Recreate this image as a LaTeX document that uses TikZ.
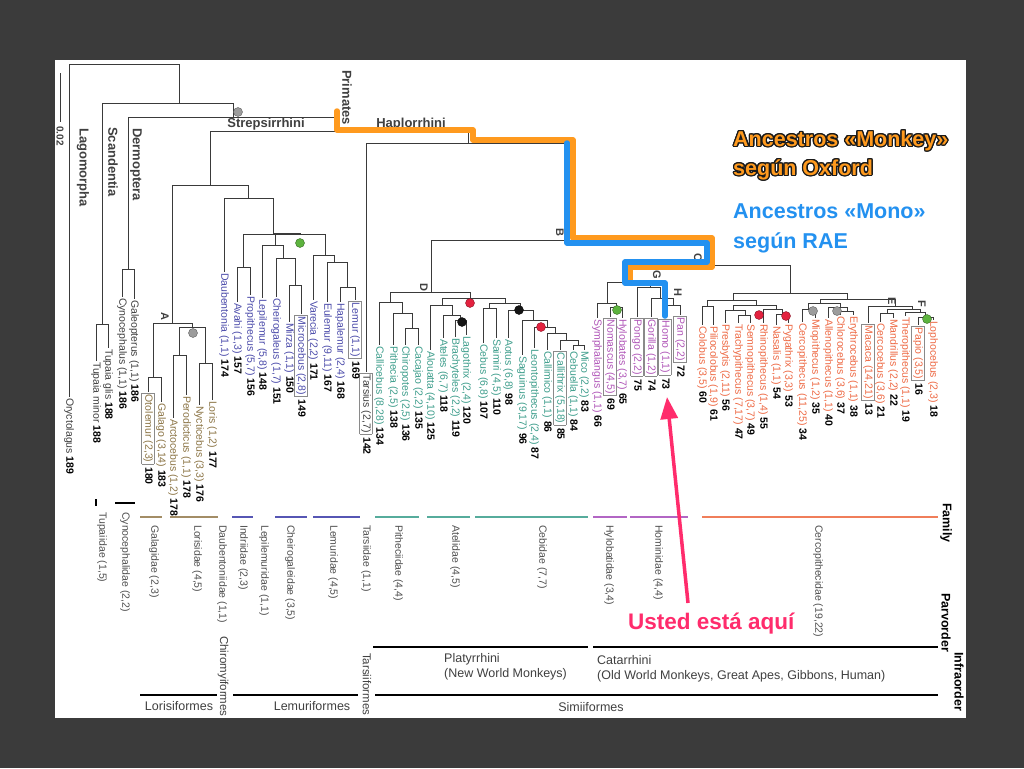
\documentclass[tikz,border=0pt]{standalone}
\usepackage{fontspec}
\setmainfont{Liberation Sans}
\usepackage{xcolor}
\usepackage{contour}
\usetikzlibrary{arrows.meta}
\definecolor{frame}{HTML}{3B3B3B}
\definecolor{treeline}{HTML}{3A3A3A}
\definecolor{outc}{HTML}{404040}
\definecolor{lorisc}{HTML}{8C7546}
\definecolor{lemurc}{HTML}{4B4BAA}
\definecolor{platyc}{HTML}{3E9E8C}
\definecolor{apec}{HTML}{B055B8}
\definecolor{cercoc}{HTML}{EE6A45}
\definecolor{boxgray}{HTML}{8A8A8A}
\definecolor{famtext}{HTML}{505050}
\definecolor{famloris}{HTML}{A38D66}
\definecolor{famlemur}{HTML}{5656B4}
\definecolor{famplaty}{HTML}{56AC9C}
\definecolor{famape}{HTML}{B266C4}
\definecolor{famcerco}{HTML}{F07E5A}
\definecolor{oxford}{HTML}{FF9A1E}
\definecolor{outl}{HTML}{1A1A1A}
\definecolor{rae}{HTML}{2391F0}
\definecolor{here}{HTML}{FF2C6C}
\definecolor{dotgrey}{HTML}{9C9C9C}
\definecolor{dotgreen}{HTML}{5DB33E}
\definecolor{dotred}{HTML}{E3223F}
\definecolor{dotblack}{HTML}{151515}
\newcommand\gnum[1]{\textbf{\textcolor{black}{#1}}}
\newcommand\namebox[1]{{\setlength\fboxsep{1.2pt}\setlength\fboxrule{0.6pt}\fcolorbox{boxgray}{white}{#1}}}
\contourlength{1.3pt}
\tikzset{
  br/.style={draw=treeline, line width=0.9pt},
  genus/.style={rotate=-90, anchor=west, inner sep=0.8pt, font=\fontsize{10.5}{12}\selectfont},
  fam/.style={rotate=-90, anchor=west, inner sep=0pt, text=famtext, font=\fontsize{10.5}{12}\selectfont},
  famline/.style={line width=2.2pt},
  clade/.style={rotate=-90, anchor=west, inner sep=0pt, text=outc, font=\bfseries\fontsize{13}{15}\selectfont},
  cladeh/.style={inner sep=0pt, text=outc, font=\bfseries\fontsize{13}{15}\selectfont},
  letter/.style={rotate=-90, inner sep=0pt, text=outc, font=\bfseries\fontsize{11}{12}\selectfont},
  bead/.style={circle, inner sep=0pt, minimum size=9pt, draw=#1!60!black, fill=#1, line width=0.4pt},
  rankbar/.style={draw=black, line width=1.6pt},
  ranklab/.style={inner sep=0pt, text=outc, font=\fontsize{12.5}{15}\selectfont},
  rankname/.style={rotate=-90, anchor=west, inner sep=0pt, font=\bfseries\fontsize{12.5}{14}\selectfont},
  oxfpath/.style={draw=oxford, line width=5.5pt, line join=round, line cap=round},
  raepath/.style={draw=rae, line width=5.5pt, line join=round, line cap=round},
  oxftext/.style={anchor=west, align=left, inner sep=0pt, text=oxford, font=\bfseries\fontsize{21.5}{29}\selectfont},
  raetext/.style={anchor=west, align=left, inner sep=0pt, text=rae, font=\bfseries\fontsize{21.5}{30}\selectfont},
  heretext/.style={anchor=west, inner sep=0pt, text=here, font=\bfseries\fontsize{22.5}{26}\selectfont},
  herearrow/.style={draw=here, line width=3.5pt, -{Triangle[length=22pt,width=17pt]}},
}

\begin{document}
\begin{tikzpicture}[x=1pt,y=-1pt]
  \useasboundingbox (0,0) rectangle (1024,768);
  \fill[frame] (0,0) rectangle (1024,768);
  \fill[white] (55,60) rectangle (966,718);

  % internal nodes
  \foreach \nm/\px/\py in {root/124/64, n1/179/103, n2/102/324, n3/233/117, n4/128/269, n5/337/131,
      s0/210/185, s1/172/323, s2/153/377, s3/192/327, s4/179/355, s5/205/363,
      s6/248/198, s7/273/234, s8/243/267, s9/275/245, s10/283/258, s11/295/285,
      s12/325/255, s13/334/262, s14/347/287,
      h0/468/143, h1/567/240,
      p0/431/292, p1/390/302, p2/402/313, p3/412/328, p4/470/298, p5/442/305, p6/452/315, p7/460/320,
      p8/505/303, p9/489/308, p11/520/310, p10/533/320, p12/547/327, p13/555/333, p14/566/340, p15/578/345,
      c0/707/265, c1/625/282, c2/607/303, c3/616/307, c4/650/287, c5/660/298, c6/673/305,
      c7/790/293, c8/733/300, c9/707/306, c10/756/305, c11/733/310, c12/745/315, c13/776/309, c14/782/314,
      c15/847/299, c16/820/303, c17/808/309, c18/840/307, c19/847/311,
      c20/895/306, c21/912/309, c22/887/313, c23/920/312, c24/925/317}
    \coordinate (\nm) at (\px,\py);

  % tips
  \foreach \nm/\px/\py/\lab/\cnt in {Oryctolagus/69/397/{Oryctolagus}/189, Tminor/96/361/{Tupaia minor}/188,
      Tglis/108/348/{Tupaia glis}/188, Cynocephalus/122/297/{Cynocephalus (1,1)}/186,
      Galeopterus/134/299/{Galeopterus (1,1)}/186, Tarsius/366/372/{\namebox{Tarsius (2,7)}}/142}
    \node[genus,text=outc] (\nm) at (\px,\py) {\lab\ \gnum{\cnt}};
  \foreach \nm/\px/\py/\lab/\cnt in {Otolemur/148/392/{\namebox{Otolemur (2,3)}}/180,
      Galago/161/402/{Galago (3,14)}/183, Arctocebus/173/418/{Arctocebus (1,2)}/178,
      Perodicticus/186/395/{Perodicticus (1,1)}/178, Nycticebus/199/405/{Nycticebus (3,3)}/176,
      Loris/212/400/{Loris (1,2)}/177}
    \node[genus,text=lorisc] (\nm) at (\px,\py) {\lab\ \gnum{\cnt}};
  \foreach \nm/\px/\py/\lab/\cnt in {Daubentonia/224/272/{Daubentonia (1,1)}/174,
      Avahi/237/302/{Avahi (1,3)}/157, Propithecus/250/295/{Propithecus (5,7)}/156,
      Lepilemur/262/298/{Lepilemur (5,8)}/148, Cheirogaleus/276/297/{Cheirogaleus (1,7)}/151,
      Mirza/289/322/{Mirza (1,1)}/150, Microcebus/301/314/{\namebox{Microcebus (2,8)}}/149,
      Varecia/313/300/{Varecia (2,2)}/171, Eulemur/327/302/{Eulemur (9,11)}/167,
      Hapalemur/340/302/{Hapalemur (2,4)}/168, Lemur/355/300/{\namebox{Lemur (1,1)}}/169}
    \node[genus,text=lemurc] (\nm) at (\px,\py) {\lab\ \gnum{\cnt}};
  \foreach \nm/\px/\py/\lab/\cnt in {Callicebus/379/345/{Callicebus (8,28)}/134,
      Pithecia/393/345/{Pithecia (2,5)}/138, Chiropotes/405/345/{Chiropotes (2,5)}/136,
      Cacajao/418/345/{Cacajao (2,2)}/135, Alouatta/430/350/{Alouatta (4,10)}/125,
      Ateles/443/338/{Ateles (6,7)}/118, Brachyteles/455/337/{Brachyteles (2,2)}/119,
      Lagothrix/466/335/{Lagothrix (2,4)}/120, Cebus/483/343/{Cebus (6,8)}/107,
      Saimiri/496/338/{Saimiri (4,5)}/110, Aotus/508/338/{Aotus (6,8)}/98,
      Saguinus/522/355/{Saguinus (9,17)}/96, Leontopithecus/534/348/{Leontopithecus (2,4)}/87,
      Callimico/547/350/{Callimico (1,1)}/86, Callithrix/560/350/{\namebox{Callithrix (5,18)}}/85,
      Cebuella/573/350/{Cebuella (1,1)}/84, Mico/584/350/{Mico (2,2)}/83}
    \node[genus,text=platyc] (\nm) at (\px,\py) {\lab\ \gnum{\cnt}};
  \foreach \nm/\px/\py/\lab/\cnt in {Symphalangus/597/318/{Symphalangus (1,1)}/66,
      Nomascus/610/317/{\namebox{Nomascus (4,5)}}/69, Hylobates/622/318/{Hylobates (3,7)}/65,
      Pongo/637/317/{\namebox{Pongo (2,2)}}/75, Gorilla/651/317/{\namebox{Gorilla (1,2)}}/74,
      Homo/665/318/{\namebox{Homo (1,1)}}/73, Pan/680/315/{\namebox{Pan (2,2)}}/72}
    \node[genus,text=apec] (\nm) at (\px,\py) {\lab\ \gnum{\cnt}};
  \foreach \nm/\px/\py/\lab/\cnt in {Colobus/702/325/{Colobus (3,5)}/60,
      Piliocolobus/713/325/{Piliocolobus (1,9)}/61, Presbytis/725/323/{Presbytis (2,11)}/56,
      Trachypithecus/738/323/{Trachypithecus (7,17)}/47, Semnopithecus/750/323/{Semnopithecus (3,7)}/49,
      Rhinopithecus/763/323/{Rhinopithecus (1,4)}/55, Nasalis/776/325/{Nasalis (1,1)}/54,
      Pygathrix/788/323/{Pygathrix (3,3)}/53, Cercopithecus/802/322/{Cercopithecus (11,25)}/34,
      Miopithecus/815/318/{Miopithecus (1,2)}/35, Allenopithecus/828/318/{Allenopithecus (1,1)}/40,
      Chlorocebus/840/315/{Chlorocebus (3,6)}/37, Erythrocebus/853/315/{Erythrocebus (1,1)}/38,
      Macaca/868/323/{\namebox{Macaca (14,21)}}/13, Cercocebus/880/322/{Cercocebus (3,6)}/21,
      Mandrillus/893/318/{Mandrillus (2,2)}/22, Theropithecus/905/316/{Theropithecus (1,1)}/19,
      Papio/918/325/{\namebox{Papio (3,5)}}/16, Lophocebus/933/320/{Lophocebus (2,3)}/18}
    \node[genus,text=cercoc] (\nm) at (\px,\py) {\lab\ \gnum{\cnt}};

  % branches
  \foreach \pa/\ch in {root/Oryctolagus, root/n1, n1/n2, n1/n3, n2/Tminor, n2/Tglis,
      n3/n4, n3/n5, n4/Cynocephalus, n4/Galeopterus, n5/s0, n5/h0,
      s0/s1, s0/s6, s1/s2, s1/s3, s2/Otolemur, s2/Galago, s3/s4, s3/s5,
      s4/Arctocebus, s4/Perodicticus, s5/Nycticebus, s5/Loris,
      s6/Daubentonia, s6/s7, s7/s8, s7/s9, s7/s12, s8/Avahi, s8/Propithecus,
      s9/Lepilemur, s9/s10, s10/Cheirogaleus, s10/s11, s11/Mirza, s11/Microcebus,
      s12/Varecia, s12/s13, s13/Eulemur, s13/s14, s14/Hapalemur, s14/Lemur,
      h0/Tarsius, h0/h1, h1/p0, h1/c0,
      p0/p1, p0/p4, p1/Callicebus, p1/p2, p2/Pithecia, p2/p3, p3/Chiropotes, p3/Cacajao,
      p4/p5, p4/p8, p5/Alouatta, p5/p6, p6/Ateles, p6/p7, p7/Brachyteles, p7/Lagothrix,
      p8/p9, p8/p11, p9/Cebus, p9/Saimiri, p11/Aotus, p11/p10, p10/Saguinus, p10/p12,
      p12/Leontopithecus, p12/p13, p13/Callimico, p13/p14, p14/Callithrix, p14/p15,
      p15/Cebuella, p15/Mico,
      c0/c1, c0/c7, c1/c2, c1/c4, c2/Symphalangus, c2/c3, c3/Nomascus, c3/Hylobates,
      c4/Pongo, c4/c5, c5/Gorilla, c5/c6, c6/Homo, c6/Pan,
      c7/c8, c7/c15, c8/c9, c8/c10, c9/Colobus, c9/Piliocolobus, c10/c11, c10/c13,
      c11/Presbytis, c11/c12, c12/Trachypithecus, c12/Semnopithecus,
      c13/Rhinopithecus, c13/c14, c14/Nasalis, c14/Pygathrix,
      c15/c16, c15/c20, c16/c17, c16/c18, c17/Cercopithecus, c17/Miopithecus,
      c18/Allenopithecus, c18/c19, c19/Chlorocebus, c19/Erythrocebus,
      c20/Macaca, c20/c21, c21/c22, c21/c23, c22/Cercocebus, c22/Mandrillus,
      c23/Theropithecus, c23/c24, c24/Papio, c24/Lophocebus}
    \draw[br] (\pa) -| (\ch);
  \draw[br, line width=1.8pt] (s7) -- (s7 -| Microcebus);

  % scale bar
  \draw[br] (60,73) -- (60,122);
  \node[rotate=-90, anchor=west, inner sep=0pt, text=outc, font=\bfseries\fontsize{10}{11}\selectfont] (scale) at (60,126) {0.02};

  % clade names
  \node[clade] (lago) at (83,128) {Lagomorpha};
  \node[clade] (scan) at (113,127) {Scandentia};
  \node[clade] (derm) at (136,128) {Dermoptera};
  \node[clade] (prim) at (347,70) {Primates};
  \node[cladeh] (strep) at (266,124) {Strepsirrhini};
  \node[cladeh] (haplo) at (411,124) {Haplorrhini};

  % node letters
  \foreach \nm/\px/\py in {A/165/316, B/560/232, C/698/257, D/424/287, E/892/301, F/922/304, G/657/275, H/678/292}
    \node[letter] (let\nm) at (\px,\py) {\nm};

  % support dots
  \node[bead=dotgrey] (d1) at (238,112) {};
  \node[bead=dotgrey] (d2) at (193,333) {};
  \node[bead=dotgrey] (d3) at (813,311) {};
  \node[bead=dotgrey] (d4) at (837,311) {};
  \node[bead=dotgreen] (d5) at (300,243) {};
  \node[bead=dotgreen] (d6) at (617,310) {};
  \node[bead=dotgreen] (d7) at (927,319) {};
  \node[bead=dotred] (d8) at (470,303) {};
  \node[bead=dotred] (d9) at (541,327) {};
  \node[bead=dotred] (d10) at (759,315) {};
  \node[bead=dotred] (d11) at (786,316) {};
  \node[bead=dotblack] (d12) at (462,322) {};
  \node[bead=dotblack] (d13) at (519,310) {};

  % family bars and names
  \draw[famline, draw=black, line width=2.5pt] (96,499) -- (96,506);
  \draw[famline, draw=black] (115,503) -- (135,503);
  \foreach \a/\b/\c in {140/162/famloris, 170/218/famloris, 232/253/famlemur, 275/307/famlemur,
      313/360/famlemur, 375/419/famplaty, 427/470/famplaty, 475/588/famplaty,
      593/627/famape, 630/688/famape, 702/938/famcerco}
    \draw[famline, draw=\c] (\a,517) -- (\b,517);
  \foreach \px/\py/\lab [count=\i] in {102/512/{Tupaiidae (1,5)}, 125/512/{Cynocephalidae (2,2)},
      154/525/{Galagidae (2,3)}, 197/525/{Lorisidae (4,5)}, 222/525/{Daubentoniidae (1,1)},
      243/525/{Indriidae (2,3)}, 264/525/{Lepilemuridae (1,1)}, 290/525/{Cheirogaleidae (3,5)},
      333/525/{Lemuridae (4,5)}, 366/525/{Tarsiidae (1,1)}, 398/525/{Pitheciidae (4,4)},
      455/525/{Atelidae (4,5)}, 542/525/{Cebidae (7,7)}, 609/525/{Hylobatidae (3,4)},
      658/525/{Hominidae (4,4)}, 818/525/{Cercopithecidae (19,22)}}
    \node[fam] (fam\i) at (\px,\py) {\lab};

  % parvorders and infraorders
  \draw[rankbar] (373,647) -- (588,647);
  \draw[rankbar] (593,647) -- (938,647);
  \draw[rankbar] (140,695) -- (217,695);
  \draw[rankbar] (233,695) -- (358,695);
  \draw[rankbar] (375,695) -- (938,695);
  \node[ranklab, anchor=north west, align=left] (platy) at (444,653) {Platyrrhini\\(New World Monkeys)};
  \node[ranklab, anchor=north west, align=left] (catar) at (597,655) {Catarrhini\\(Old World Monkeys, Great Apes, Gibbons, Human)};
  \node[ranklab] (loris) at (179,706) {Lorisiformes};
  \node[ranklab] (lemur) at (312,706) {Lemuriformes};
  \node[ranklab] (simii) at (591,707) {Simiiformes};
  \node[ranklab, rotate=-90, anchor=west, font=\fontsize{11.5}{13}\selectfont] (chiro) at (223,636) {Chiromyiformes};
  \node[ranklab, rotate=-90, anchor=west, font=\fontsize{11.5}{13}\selectfont] (tarsi) at (367,653) {Tarsiiformes};
  \node[rankname] (family) at (946,503) {Family};
  \node[rankname] (parvo) at (946,593) {Parvorder};
  \node[rankname] (infra) at (959,652) {Infraorder};

  % ancestors paths
  \draw[oxfpath] (337,111) -- (337,130) -- (473,130) -- (473,140) -- (573,140) -- (573,238)
    -- (712,238) -- (712,267) -- (630,267) -- (630,283);
  \draw[raepath] (567,143) -- (567,243) -- (707,243) -- (707,262) -- (625,262) -- (625,283)
    -- (665,283) -- (665,316);
  \node[oxftext] (oxf) at (733,156) {\contour{outl}{Ancestros «Monkey»}\\\contour{outl}{según Oxford}};
  \node[raetext] (raet) at (733,228) {Ancestros «Mono»\\según RAE};

  % you are here
  \node[heretext] (usted) at (628,624) {Usted está aquí};
  \coordinate (tail) at (688,603);
  \coordinate (tip) at (667,397);
  \draw[herearrow] (tail) -- (tip);
\end{tikzpicture}
\end{document}
